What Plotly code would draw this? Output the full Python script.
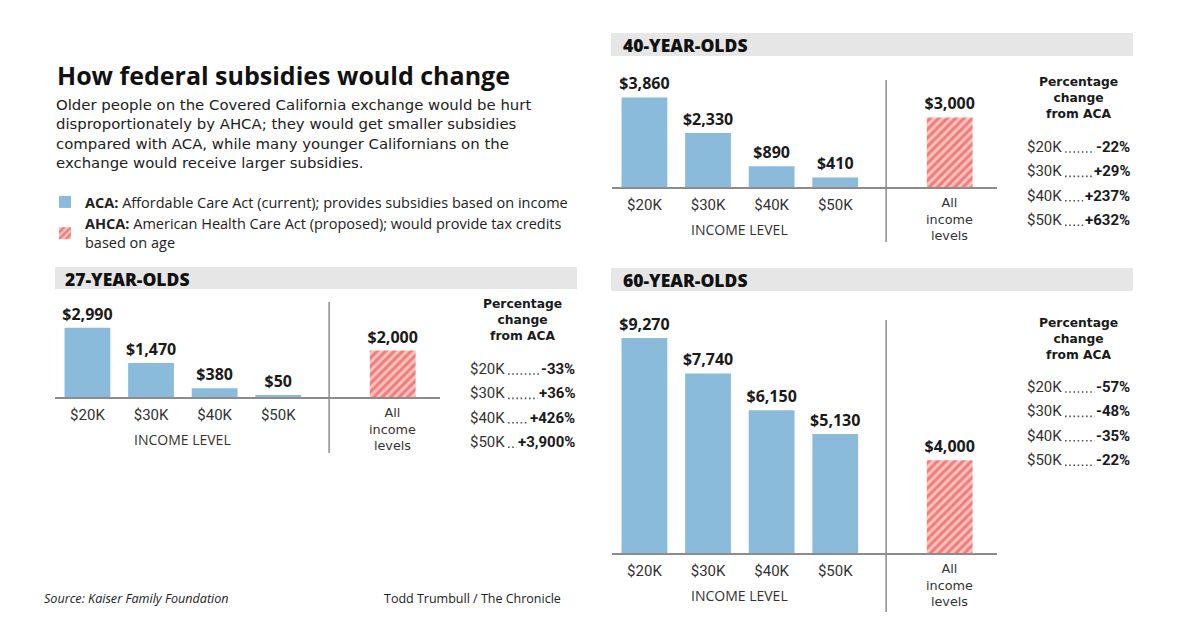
import plotly.graph_objects as go

# ---------------- data ----------------
income_labels = ["$20K", "$30K", "$40K", "$50K"]
all_label_lines = ["All", "income", "levels"]
pct_heading_lines = ["Percentage", "change", "from ACA"]

aca_27 = [2990, 1470, 380, 50]
ahca_27 = [2000]
pct_27 = ["-33%", "+36%", "+426%", "+3,900%"]

aca_40 = [3860, 2330, 890, 410]
ahca_40 = [3000]
pct_40 = ["-22%", "+29%", "+237%", "+632%"]

aca_60 = [9270, 7740, 6150, 5130]
ahca_60 = [4000]
pct_60 = ["-57%", "-48%", "-35%", "-22%"]

subtitle_lines = [
    "Older people on the Covered California exchange would be hurt",
    "disproportionately by AHCA; they would get smaller subsidies",
    "compared with ACA, while many younger Californians on the",
    "exchange would receive larger subsidies.",
]

# ---------------- style ----------------
W, H = 1200, 630
BLUE = "#8abbdb"
RED = "#e9313e"
PINK = "#f9c3bc"
GRAY_BAND = "#e6e6e6"
LINE = "#8c8c8c"
TXT = "#1a1a1a"
BODY_FONT = "Open Sans"
WIDE_FONT = "DejaVu Sans"
NUM_FONT = "Roboto"

PX_PER_DOLLAR = 0.0232
ACA_POS = [0, 1, 2, 3]
ALL_POS = 4.8
SEP_POS = 3.8
BAR_W = 0.72


def px(xp):
    return xp / W


def py(yp):
    return 1 - yp / H


fig = go.Figure()

panels = [
    dict(title="27-YEAR-OLDS", aca=aca_27, ahca=ahca_27, pct=pct_27, ax="",
         x0=55, x1=440, base=397, top=300, sep0=302, sep1=453,
         band=(55, 577, 267, 289), title_dx=8,
         pct_left=468, pct_right=577, pct_head=306, pct_row0=369, show=True),
    dict(title="40-YEAR-OLDS", aca=aca_40, ahca=ahca_40, pct=pct_40, ax="2",
         x0=612, x1=997, base=187, top=80, sep0=80, sep1=242,
         band=(611, 1133, 33, 56), title_dx=10,
         pct_left=1025, pct_right=1132, pct_head=84, pct_row0=147, show=False),
    dict(title="60-YEAR-OLDS", aca=aca_60, ahca=ahca_60, pct=pct_60, ax="3",
         x0=612, x1=997, base=553, top=320, sep0=320, sep1=612,
         band=(611, 1133, 268, 291), title_dx=10,
         pct_left=1025, pct_right=1132, pct_head=325, pct_row0=387, show=False),
]

shapes = []
annotations = []


def add_text(text, x, y, size, xanchor="left", yanchor="middle", family=BODY_FONT,
             color=TXT, weight=None, xref="paper", **kw):
    f = dict(family=family, size=size, color=color)
    if weight is not None:
        f["weight"] = weight
    annotations.append(dict(text=text, xref=xref, yref="paper", x=x, y=y,
                            xanchor=xanchor, yanchor=yanchor, showarrow=False,
                            font=f, **kw))


for p in panels:
    xa = "x" + p["ax"]
    ya = "y" + p["ax"]
    fig.add_trace(go.Bar(
        x=ACA_POS, y=p["aca"], width=BAR_W, xaxis=xa, yaxis=ya,
        marker=dict(color=BLUE, line=dict(width=0)),
        texttemplate="<b>$%{y:,}</b>", textposition="outside",
        outsidetextfont=dict(family=BODY_FONT, size=16, color=TXT),
        constraintext="none", cliponaxis=False,
        name="<b>ACA:</b> Affordable Care Act (current); provides subsidies based on income",
        showlegend=p["show"], hoverinfo="skip",
    ))
    fig.add_trace(go.Bar(
        x=[ALL_POS], y=p["ahca"], width=BAR_W, xaxis=xa, yaxis=ya,
        marker=dict(color=PINK, line=dict(width=0),
                    pattern=dict(shape="/", fgcolor=RED, bgcolor=PINK, size=6, solidity=0.5)),
        texttemplate="<b>$%{y:,}</b>", textposition="outside",
        outsidetextfont=dict(family=BODY_FONT, size=16, color=TXT),
        constraintext="none", cliponaxis=False,
        name="<b>AHCA:</b> American Health Care Act (proposed); would provide tax credits<br>based on age",
        showlegend=p["show"], hoverinfo="skip",
    ))

    span_units = (p["x1"] - p["x0"]) / 63.6
    xr0 = -0.51
    fig.layout["xaxis" + p["ax"]] = dict(
        domain=[px(p["x0"]), px(p["x1"])],
        range=[xr0, xr0 + span_units],
        tickvals=ACA_POS,
        ticktext=income_labels,
        showline=True, linecolor=LINE, linewidth=1.5,
        showgrid=False, zeroline=False, ticks="",
        tickfont=dict(family=NUM_FONT, size=15, color="#333333"),
        anchor=ya, fixedrange=True, ticklabelstandoff=3,
    )
    fig.layout["yaxis" + p["ax"]] = dict(
        domain=[py(p["base"]), py(p["top"])],
        range=[0, (p["base"] - p["top"]) / PX_PER_DOLLAR],
        visible=False, anchor=xa, fixedrange=True,
    )

    # grey header band
    bx0, bx1, by0, by1 = p["band"]
    shapes.append(dict(type="rect", xref="paper", yref="paper",
                       x0=px(bx0), x1=px(bx1), y0=py(by1), y1=py(by0),
                       fillcolor=GRAY_BAND, line=dict(width=0), layer="below"))
    add_text(p["title"], px(bx0 + p["title_dx"]), py((by0 + by1) / 2 + 0.5), 17.5,
             weight=800, color="#111111")
    # separator
    shapes.append(dict(type="line", xref=xa, yref="paper", x0=SEP_POS, x1=SEP_POS,
                       y0=py(p["sep1"]), y1=py(p["sep0"]), line=dict(color=LINE, width=1.5)))
    # income level label
    add_text("INCOME LEVEL", 1.5, py(p["base"] + 42), 14, xanchor="center",
             color="#333333", xref=xa)
    # "All income levels" label
    add_text("<br>".join(all_label_lines), ALL_POS, py(p["base"] + 7), 12.8,
             xanchor="center", yanchor="top", family=WIDE_FONT, color="#333333",
             xref=xa, align="center", borderpad=0)
    # percentage change block
    cx = (p["pct_left"] + p["pct_right"]) / 2
    add_text("<b>" + "<br>".join(pct_heading_lines) + "</b>", px(cx), py(p["pct_head"] - 10),
             12.3, xanchor="center", yanchor="top", family=WIDE_FONT, color=TXT,
             align="center", borderpad=0)
    for i, (lab, val) in enumerate(zip(income_labels, p["pct"])):
        yc = p["pct_row0"] + i * 24.4
        # dotted leader line, then label and value drawn over it
        shapes.append(dict(type="line", xref="paper", yref="paper",
                           x0=px(p["pct_left"] + 40), x1=px(p["pct_right"] - 6),
                           y0=py(yc + 5), y1=py(yc + 5),
                           line=dict(color="#555555", width=1.6, dash="1.6px,2.6px")))
        add_text(lab, px(p["pct_left"]), py(yc), 15, family=NUM_FONT, color="#333333")
        add_text("<b>" + val + "</b>", px(p["pct_right"]), py(yc), 15, xanchor="right",
                 family=NUM_FONT, color=TXT, bgcolor="white", borderpad=1)

# title & subtitle
add_text("<b>How federal subsidies would change</b>", px(55), py(75), 25,
         weight=800, color="#111111")
add_text("<br>".join(subtitle_lines), px(55), py(95), 14.9, yanchor="top",
         family=WIDE_FONT, color="#222222", align="left", borderpad=0)

# footer
add_text("<i>Source: Kaiser Family Foundation</i>", px(42), py(598), 12.6, color="#222222")
add_text("Todd Trumbull / The Chronicle", px(563), py(598), 12.5, xanchor="right",
         color="#222222")

fig.update_layout(
    width=W, height=H, margin=dict(l=0, r=0, t=0, b=0),
    paper_bgcolor="white", plot_bgcolor="white",
    shapes=shapes, annotations=annotations,
    showlegend=True,
    legend=dict(x=px(45), y=py(186), xanchor="left", yanchor="top",
                font=dict(family=BODY_FONT, size=14.5, color="#222222"),
                bgcolor="rgba(0,0,0,0)", tracegroupgap=0, itemclick=False, itemdoubleclick=False),
    barmode="overlay",
)

fig.write_html("out.html", config={"displayModeBar": False},
               post_script="document.body.style.margin='0';")
